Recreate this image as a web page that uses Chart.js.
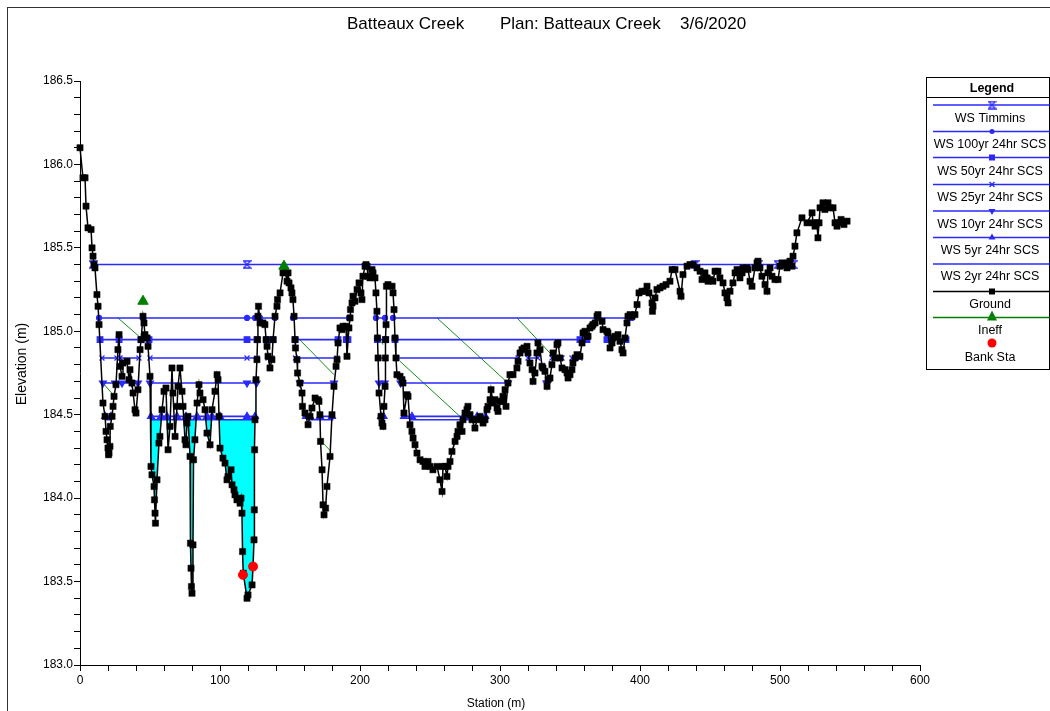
<!DOCTYPE html>
<html>
<head>
<meta charset="utf-8">
<script src="https://cdn.jsdelivr.net/npm/chart.js@4.4.1/dist/chart.umd.min.js"></script>
<style>
html,body{margin:0;padding:0;background:#fff;}
canvas{display:block;}
</style>
</head>
<body>
<canvas id="c" width="1050" height="711" style="width:1050px;height:711px"></canvas>
<script>
// ---------------- DATA ----------------
const titleParts = ['Batteaux Creek', 'Plan: Batteaux Creek', '3/6/2020'];
const xAxisTitle = 'Station (m)';
const yAxisTitle = 'Elevation (m)';
const xTickLabels = [0, 100, 200, 300, 400, 500, 600];
const yTickLabels = [183.0, 183.5, 184.0, 184.5, 185.0, 185.5, 186.0, 186.5];
const legendLabels = ['WS Timmins', 'WS 100yr 24hr SCS', 'WS 50yr 24hr SCS', 'WS 25yr 24hr SCS',
  'WS 10yr 24hr SCS', 'WS 5yr 24hr SCS', 'WS 2yr 24hr SCS', 'Ground', 'Ineff', 'Bank Sta'];

const groundSta = [
  0, 2.1, 3.6, 4.3, 5.7, 7.9, 8.6, 9.3, 10.0, 10.7,
  12.1, 12.9, 13.6, 16.4, 17.9, 18.6, 19.3, 20.0, 20.4, 20.7,
  21.4, 21.6, 22.9, 23.6, 24.3, 25.7, 27.1, 27.9, 28.6, 30.0,
  30.7, 33.6, 35.0, 35.7, 37.1, 37.9, 39.3, 40.0, 41.4, 42.9,
  43.6, 45.0, 45.7, 46.4, 47.9, 48.6, 50.0, 50.7, 51.4, 52.9,
  53.2, 53.6, 53.9, 55.0, 56.4, 57.1, 58.6, 60.0, 61.4, 62.9,
  64.3, 65.7, 66.4, 67.9, 69.3, 70.0, 71.4, 72.9, 73.6, 75.0,
  75.7, 76.4, 77.1, 78.6, 78.9, 79.3, 79.6, 80.0, 80.7, 81.1,
  82.1, 83.6, 85.0, 85.7, 87.9, 89.3, 90.7, 92.9, 94.3, 96.4,
  97.9, 98.6, 99.3, 100.0, 102.1, 103.6, 105.0, 105.7, 107.9, 108.6,
  110.0, 110.7, 112.1, 114.3, 115.0, 115.7, 116.1, 116.6, 119.3, 120.0,
  122.9, 123.6, 124.3, 124.5, 124.7, 125.0, 125.7, 126.4, 126.8, 127.1,
  127.5, 128.6, 130.7, 132.1, 132.9, 133.6, 134.3, 135.7, 137.1, 137.9,
  139.3, 140.7, 141.1, 142.9, 145.0, 146.4, 147.9, 148.6, 149.3, 150.7,
  151.4, 152.1, 152.9, 153.6, 153.9, 155.0, 155.4, 157.1, 158.6, 158.9,
  160.7, 162.9, 164.3, 165.7, 167.9, 170.0, 170.7, 171.4, 171.8, 172.9,
  173.6, 174.3, 175.4, 176.4, 178.6, 180.0, 181.4, 182.9, 183.6, 184.3,
  185.7, 187.1, 187.9, 190.0, 190.7, 192.1, 192.9, 193.2, 194.3, 195.0,
  196.4, 197.9, 199.3, 200.7, 201.4, 202.1, 203.6, 204.3, 205.0, 205.7,
  207.1, 208.6, 209.3, 210.7, 211.4, 212.1, 212.5, 212.9, 213.6, 215.0,
  215.7, 216.4, 217.1, 217.9, 218.1, 218.3, 218.6, 218.9, 220.0, 222.9,
  223.6, 224.3, 225.0, 225.7, 226.4, 228.6, 230.0, 230.7, 231.4, 233.6,
  234.3, 235.7, 237.1, 237.9, 239.3, 240.7, 242.9, 245.0, 246.4, 248.6,
  250.0, 252.1, 255.0, 257.1, 258.6, 259.3, 260.7, 262.1, 262.9, 264.3,
  265.7, 267.9, 269.3, 270.0, 271.4, 272.9, 273.6, 275.0, 276.4, 277.1,
  278.6, 280.0, 282.1, 283.6, 285.7, 287.9, 289.3, 290.7, 291.4, 292.9,
  293.6, 295.0, 296.4, 297.9, 298.6, 300.0, 301.4, 302.1, 303.6, 304.3,
  305.7, 307.1, 309.3, 312.1, 312.9, 314.3, 315.7, 317.1, 319.3, 320.0,
  321.4, 322.9, 323.6, 325.0, 326.4, 327.1, 328.6, 330.0, 330.7, 332.1,
  333.6, 334.3, 335.7, 337.1, 337.9, 339.3, 340.7, 341.4, 342.9, 344.3,
  346.4, 347.9, 348.6, 350.0, 351.4, 352.1, 353.6, 355.0, 357.1, 358.6,
  359.3, 360.7, 362.1, 362.9, 364.3, 365.7, 366.4, 367.9, 369.3, 370.0,
  372.9, 373.6, 376.4, 377.1, 378.6, 380.0, 380.7, 382.1, 384.3, 385.7,
  387.1, 387.9, 389.3, 390.7, 391.4, 392.9, 394.3, 396.4, 397.9, 399.3,
  401.4, 403.6, 405.0, 406.4, 408.6, 408.9, 409.3, 410.7, 412.1, 414.3,
  416.4, 418.6, 421.4, 422.9, 425.0, 428.6, 429.3, 430.7, 433.6, 435.7,
  437.9, 440.7, 442.9, 444.3, 446.4, 447.9, 448.6, 450.0, 452.1, 453.6,
  455.7, 457.1, 459.3, 460.7, 462.1, 462.9, 464.3, 466.4, 467.9, 469.3,
  471.4, 472.9, 473.6, 476.4, 477.1, 478.6, 480.0, 482.1, 483.6, 484.3,
  485.7, 487.1, 489.3, 490.7, 491.4, 492.9, 494.3, 496.4, 498.6, 500.0,
  501.4, 503.6, 505.0, 505.7, 507.1, 508.6, 509.3, 510.7, 512.1, 515.7,
  519.3, 522.9, 523.6, 525.0, 526.4, 527.1, 527.9, 528.6, 530.7, 532.1,
  534.3, 535.7, 537.9, 539.3, 540.7, 541.4, 543.6, 545.7, 547.9
];
const groundElev = [
  186.10, 185.92, 185.92, 185.75, 185.62, 185.61, 185.50, 185.45, 185.40, 185.38,
  185.22, 185.15, 185.04, 184.57, 184.49, 184.40, 184.35, 184.30, 184.26, 184.27,
  184.31, 184.43, 184.49, 184.55, 184.61, 184.68, 184.89, 184.98, 184.79, 184.73,
  184.81, 184.82, 184.71, 184.77, 184.69, 184.63, 184.53, 184.51, 184.65, 184.89,
  184.95, 185.09, 185.05, 184.98, 184.96, 184.91, 184.73, 184.19, 184.14, 184.07,
  183.99, 183.91, 183.85, 184.11, 184.33, 184.37, 184.53, 184.64, 184.66, 184.29,
  184.43, 184.78, 184.63, 184.37, 184.55, 184.67, 184.78, 184.64, 184.55, 184.35,
  184.32, 184.45, 184.49, 184.25, 183.73, 183.58, 183.47, 183.43, 183.72, 184.23,
  184.35, 184.57, 184.68, 184.63, 184.59, 184.53, 184.39, 184.32, 184.53, 184.64,
  184.74, 184.71, 184.49, 184.30, 184.24, 184.21, 184.11, 184.13, 184.17, 184.08,
  184.05, 184.02, 183.99, 183.97, 184.00, 183.91, 183.68, 183.55, 183.40, 183.42,
  183.48, 183.59, 183.75, 183.93, 184.29, 184.47, 184.71, 184.83, 184.95, 185.09,
  185.15, 185.05, 185.05, 185.04, 184.95, 184.91, 184.85, 184.78, 184.83, 184.95,
  185.09, 185.15, 185.19, 185.23, 185.35, 185.36, 185.30, 185.35, 185.29, 185.26,
  185.23, 185.19, 185.09, 184.95, 184.90, 184.83, 184.75, 184.69, 184.63, 184.55,
  184.51, 184.44, 184.49, 184.54, 184.60, 184.59, 184.58, 184.50, 184.34, 184.17,
  183.96, 183.90, 183.94, 184.07, 184.25, 184.50, 184.67, 184.79, 184.83, 184.93,
  185.02, 185.01, 185.03, 185.03, 184.85, 185.02, 185.08, 185.13, 185.17, 185.21,
  185.18, 185.25, 185.29, 185.23, 185.19, 185.33, 185.39, 185.40, 185.39, 185.33,
  185.32, 185.37, 185.35, 185.32, 185.23, 185.12, 184.96, 184.84, 184.63, 184.49,
  184.45, 184.43, 184.55, 184.67, 184.84, 184.95, 185.04, 185.27, 185.28, 185.27,
  185.23, 185.13, 184.96, 184.84, 184.74, 184.73, 184.71, 184.69, 184.51, 184.62,
  184.61, 184.44, 184.40, 184.36, 184.32, 184.27, 184.23, 184.22, 184.19, 184.22,
  184.19, 184.17, 184.19, 184.11, 184.04, 184.19, 184.19, 184.13, 184.19, 184.22,
  184.28, 184.34, 184.37, 184.40, 184.44, 184.40, 184.47, 184.51, 184.53, 184.55,
  184.50, 184.47, 184.42, 184.47, 184.49, 184.45, 184.47, 184.53, 184.55, 184.59,
  184.65, 184.57, 184.59, 184.54, 184.52, 184.58, 184.58, 184.61, 184.65, 184.55,
  184.69, 184.74, 184.74, 184.78, 184.82, 184.87, 184.89, 184.90, 184.91, 184.87,
  184.81, 184.77, 184.70, 184.75, 184.87, 184.93, 184.89, 184.79, 184.78, 184.76,
  184.67, 184.71, 184.72, 184.80, 184.87, 184.84, 184.92, 184.93, 184.84, 184.78,
  184.77, 184.75, 184.72, 184.74, 184.77, 184.81, 184.84, 184.86, 184.85, 184.93,
  184.99, 185.00, 184.97, 184.97, 185.02, 185.03, 185.04, 185.05, 185.09, 185.10,
  185.06, 185.01, 185.00, 184.99, 184.90, 184.93, 184.96, 184.97, 184.98, 184.94,
  184.89, 184.87, 184.96, 185.05, 185.09, 185.10, 185.09, 185.10, 185.16, 185.23,
  185.24, 185.24, 185.27, 185.23, 185.17, 185.12, 185.15, 185.20, 185.25, 185.26,
  185.27, 185.28, 185.30, 185.37, 185.37, 185.24, 185.21, 185.34, 185.39, 185.40,
  185.40, 185.38, 185.36, 185.31, 185.35, 185.32, 185.30, 185.31, 185.30, 185.36,
  185.36, 185.32, 185.29, 185.23, 185.20, 185.17, 185.24, 185.29, 185.35, 185.37,
  185.32, 185.35, 185.38, 185.38, 185.37, 185.30, 185.27, 185.38, 185.41, 185.42,
  185.38, 185.33, 185.28, 185.24, 185.35, 185.38, 185.33, 185.31, 185.31, 185.39,
  185.41, 185.40, 185.38, 185.41, 185.42, 185.39, 185.45, 185.51, 185.59, 185.68,
  185.65, 185.71, 185.65, 185.63, 185.65, 185.56, 185.65, 185.74, 185.77, 185.73,
  185.77, 185.74, 185.74, 185.65, 185.63, 185.65, 185.67, 185.64, 185.66
];

// water surfaces: stations of drawn points (null = break), one elevation each
const wsTimminsElev = 185.40;
const wsTimminsSta = [9.3, 119.3, 439.3, 484.3, 498.6, 503.6, 507.1, 509.3];
const ws100Elev = 185.08;
const ws100Sta = [13.6, 45.0, 119.3, 125.0, 128.6, 139.3, null, 152.1, 192.1, null, 211.4, 217.9, null, 223.6, 370.0, 394.3];
const ws50Elev = 184.95;
const ws50Sta = [14.3, 27.9, 43.6, null, 49.3, 119.3, 126.4, null, 133.6, 137.9, null, 153.6, 184.3, null,
  190.2, 191.4, null, 212.4, 218.3, null, 225.0, 357.1, 362.1, null, 376.4, 390.0];
const ws25Elev = 184.84;
const ws25Sta = [15.7, 26.4, null, 28.6, 42.1, null, 50.0, 119.3, 126.4, null, 134.3, 137.1, null, 153.9, 183.6, null,
  212.9, 218.1, null, 226.4, 312.9, null, 320.0, 327.1, null, 337.1, 344.3, null, 351.4, 357.1];
const ws10Elev = 184.69;
const ws10Sta = [16.4, 25.0, 30.0, 37.1, 41.4, null, 50.0, 119.3, 126.1, null, 157.1, 181.4, null, 213.6, 217.6, null,
  229.0, 305.7, null, 333.2, 334.0];
const ws5Elev = 184.49;
const ws5Sta = [17.9, 22.1, null, 50.7, 57.9, 62.1, 69.3, 75.7, 83.6, 90.7, 94.3, 100.0, 119.3, 125.0, null,
  161.4, 164.3, null, 171.4, 180.0, null, 215.0, 216.8, null, 231.4, 237.1, 274.3, 278.6, 283.6, 289.5];
const ws2Elev = 184.47;
const ws2Sta = [18.2, 22.6, null, 50.0, 126.2, null, 162.6, 181.0, null, 235.7, 290.7];
const ws2FillSta = [50.0, 126.2];

const ineffSta = [45.0, 145.7];
const ineffElev = [185.18, 185.39];
const ineffHatchSta = [16.4, 23.6, null, 27.1, 42.1, null, 155.7, 181.4, null, 173.6, 179.3, null, 214.3, 216.4, null,
  228.6, 271.4, null, 255.0, 305.7, null, 312.1, 335.7, null, 376.4, 378.6];
const ineffHatchElev = [184.69, 184.62, null, 185.08, 184.97, null, 184.96, 184.74, null, 184.33, 184.28, null, 184.95, 184.92, null,
  184.82, 184.49, null, 185.08, 184.69, null, 185.08, 184.87, null, 185.02, 184.99];

const bankSta = [116.4, 123.6];
const bankElev = [183.54, 183.59];

// ---------------- BUILD ----------------
const FONT = "'Liberation Sans', Arial, Helvetica, sans-serif";
const BLUE = '#2a2aff';

function pts(sta, elev) {
  return sta.map((s, i) => {
    const e = Array.isArray(elev) ? elev[i] : elev;
    if (s === null || e === null) return {x: sta[i - 1] + 0.001, y: null};
    return {x: s, y: e};
  });
}

function hourglass() {
  const c = document.createElement('canvas');
  c.width = 9; c.height = 9;
  const g = c.getContext('2d');
  g.strokeStyle = BLUE; g.lineWidth = 1.3;
  g.beginPath();
  g.moveTo(1, 1); g.lineTo(8, 1); g.lineTo(1, 8); g.lineTo(8, 8); g.closePath();
  g.stroke();
  return c;
}
const hgIcon = hourglass();

function wsDs(label, sta, elev, style, radius, rotation) {
  return {
    label, data: pts(sta, elev), showLine: true, spanGaps: false,
    borderColor: BLUE, borderWidth: 1.6, backgroundColor: BLUE,
    pointStyle: style, pointRadius: radius, pointRotation: rotation || 0,
    pointBackgroundColor: BLUE, pointBorderColor: BLUE, pointBorderWidth: 1.2,
    fill: false
  };
}

const datasets = [
  {label: 'Bank Sta', data: pts(bankSta, bankElev), showLine: false, pointStyle: 'circle', pointRadius: 4.5,
   pointBackgroundColor: '#ff0000', pointBorderColor: '#ff0000', fill: false, clip: false},
  {label: 'Ineff', data: pts(ineffSta, ineffElev), showLine: false, pointStyle: 'triangle', pointRadius: 6,
   pointBackgroundColor: '#008000', pointBorderColor: '#008000', fill: false},
  {label: 'Ground', data: pts(groundSta, groundElev), showLine: true, borderColor: '#000', borderWidth: 1.5,
   pointStyle: 'rect', pointRadius: 4.4, pointBackgroundColor: '#000', pointBorderColor: '#000', pointBorderWidth: 0.5,
   fill: false, clip: false},
  wsDs('WS Timmins', wsTimminsSta, wsTimminsElev, hgIcon, 4),
  wsDs('WS 100yr 24hr SCS', ws100Sta, ws100Elev, 'circle', 2.5),
  wsDs('WS 50yr 24hr SCS', ws50Sta, ws50Elev, 'rect', 4),
  wsDs('WS 25yr 24hr SCS', ws25Sta, ws25Elev, 'crossRot', 3.5),
  wsDs('WS 10yr 24hr SCS', ws10Sta, ws10Elev, 'triangle', 4, 180),
  wsDs('WS 5yr 24hr SCS', ws5Sta, ws5Elev, 'triangle', 4),
  wsDs('WS 2yr 24hr SCS', ws2Sta, ws2Elev, 'circle', 0),
  {label: 'Ineff hatch', data: pts(ineffHatchSta, ineffHatchElev), showLine: true, spanGaps: false,
   borderColor: '#159015', borderWidth: 1, pointRadius: 0, fill: false},
  {label: 'WS 2yr fill', data: pts(ws2FillSta, ws2Elev), showLine: true, borderColor: 'rgba(0,0,0,0)', borderWidth: 1,
   pointRadius: 0, backgroundColor: '#00ffff',
   fill: {target: 2, above: '#00ffff', below: 'rgba(0,0,0,0)'}}
];

// ---------------- TEXT / LEGEND PLUGIN ----------------
const decor = {
  id: 'decor',
  afterDraw(chart) {
    const ctx = chart.ctx;
    ctx.save();
    // frame
    ctx.strokeStyle = '#333'; ctx.lineWidth = 1;
    ctx.strokeRect(7.5, 7.5, 1100, 800);
    // title
    ctx.fillStyle = '#000';
    ctx.font = '17px ' + FONT;
    ctx.textBaseline = 'alphabetic'; ctx.textAlign = 'left';
    ctx.fillText(titleParts[0], 347, 29);
    ctx.fillText(titleParts[1], 500, 29);
    ctx.fillText(titleParts[2], 680, 29);
    // axis titles
    ctx.font = '12px ' + FONT;
    ctx.textAlign = 'center'; ctx.textBaseline = 'middle';
    ctx.fillText(xAxisTitle, 496, 704);
    ctx.save();
    ctx.translate(22, 364);
    ctx.rotate(-Math.PI / 2);
    ctx.font = '14px ' + FONT;
    ctx.fillText(yAxisTitle, 0, 0);
    ctx.restore();

    // legend box
    const L = 926.5, R = 1049.5, T = 77.5, B = 369.5, cx = 990, mx = 992;
    ctx.strokeStyle = '#000'; ctx.lineWidth = 1;
    ctx.strokeRect(L, T, R - L, B - T);
    ctx.beginPath(); ctx.moveTo(L, 97.5); ctx.lineTo(R, 97.5); ctx.stroke();
    ctx.font = 'bold 12.5px ' + FONT;
    ctx.fillStyle = '#000';
    ctx.fillText('Legend', cx + 2, 89);
    const lineY = [105, 131.5, 157.5, 184.5, 211, 237.5, 264, 291.5, 317.5];
    const textY = [119, 145, 171.5, 198, 224.5, 250.5, 277, 304.5, 331, 357.5];
    const lineCol = [BLUE, BLUE, BLUE, BLUE, BLUE, BLUE, BLUE, '#000', '#008000'];
    for (let i = 0; i < lineY.length; i++) {
      ctx.strokeStyle = lineCol[i]; ctx.lineWidth = 1.5;
      ctx.beginPath(); ctx.moveTo(933, lineY[i]); ctx.lineTo(R, lineY[i]); ctx.stroke();
    }
    const y = lineY;
    ctx.fillStyle = BLUE; ctx.strokeStyle = BLUE;
    ctx.drawImage(hgIcon, mx - 4.5, y[0] - 4.5);
    ctx.beginPath(); ctx.arc(mx, y[1], 2.5, 0, Math.PI * 2); ctx.fill();
    ctx.fillRect(mx - 3, y[2] - 3, 6, 6);
    ctx.lineWidth = 1.3;
    ctx.beginPath(); ctx.moveTo(mx - 2.5, y[3] - 2.5); ctx.lineTo(mx + 2.5, y[3] + 2.5);
    ctx.moveTo(mx + 2.5, y[3] - 2.5); ctx.lineTo(mx - 2.5, y[3] + 2.5); ctx.stroke();
    ctx.beginPath(); ctx.moveTo(mx - 3.5, y[4] - 2); ctx.lineTo(mx + 3.5, y[4] - 2); ctx.lineTo(mx, y[4] + 4); ctx.closePath(); ctx.fill();
    ctx.beginPath(); ctx.moveTo(mx - 3.5, y[5] + 2); ctx.lineTo(mx + 3.5, y[5] + 2); ctx.lineTo(mx, y[5] - 4); ctx.closePath(); ctx.fill();
    ctx.fillStyle = '#000'; ctx.fillRect(mx - 3, y[7] - 3, 6, 6);
    ctx.fillStyle = '#008000';
    ctx.beginPath(); ctx.moveTo(mx - 5, y[8] + 3); ctx.lineTo(mx + 5, y[8] + 3); ctx.lineTo(mx, y[8] - 7); ctx.closePath(); ctx.fill();
    ctx.fillStyle = '#ff0000';
    ctx.beginPath(); ctx.arc(mx, 343, 4.5, 0, Math.PI * 2); ctx.fill();
    ctx.fillStyle = '#000';
    ctx.font = '12.5px ' + FONT;
    for (let i = 0; i < legendLabels.length; i++) ctx.fillText(legendLabels[i], cx, textY[i]);
    ctx.restore();
  }
};

const tickFont = {family: FONT, size: 12};
new Chart(document.getElementById('c'), {
  type: 'line',
  data: {datasets},
  plugins: [decor],
  options: {
    responsive: false, animation: false, events: [],
    layout: {padding: {left: 0, right: 130, top: 81, bottom: 0}},
    plugins: {legend: {display: false}, tooltip: {enabled: false}, title: {display: false}},
    elements: {line: {tension: 0}},
    scales: {
      x: {
        type: 'linear', min: 0, max: 600,
        ticks: {stepSize: 20, autoSkip: false, maxRotation: 0, color: '#000', font: tickFont, padding: 2,
          callback: v => xTickLabels.includes(Math.round(v)) && Math.abs(v - Math.round(v)) < 1e-6 ? String(Math.round(v)) : ''},
        grid: {display: true, drawOnChartArea: false, drawTicks: true, tickLength: 6, color: '#000', lineWidth: 1},
        border: {display: true, color: '#000', width: 1},
        afterFit: s => { s.height = 46; }
      },
      y: {
        type: 'linear', min: 183, max: 186.5,
        ticks: {stepSize: 0.1, autoSkip: false, color: '#000', font: tickFont, padding: 1,
          callback: v => {
            const r = Math.round(v * 10) / 10;
            return yTickLabels.some(t => Math.abs(t - r) < 1e-6) ? r.toFixed(1) : '';
          }},
        grid: {display: true, drawOnChartArea: false, drawTicks: true, tickLength: 6, color: '#000', lineWidth: 1},
        border: {display: true, color: '#000', width: 1},
        afterFit: s => { s.width = 80; }
      }
    }
  }
});
</script>
</body>
</html>
